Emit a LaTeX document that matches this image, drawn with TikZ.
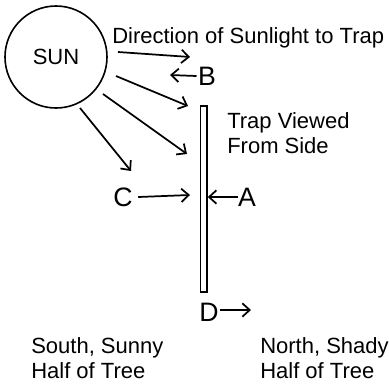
\documentclass[tikz,border=0pt]{standalone}
\usepackage{fontspec}
\setmainfont{Liberation Sans}
\usetikzlibrary{arrows.meta,positioning}
\tikzset{
  ray/.style={-{Straight Barb[length=5.5pt,width=10pt,line width=1.3pt]},line width=1.3pt},
  lbl/.style={font=\fontsize{16.5}{19}\selectfont,inner sep=0pt,anchor=base west},
  letter/.style={font=\fontsize{20}{24}\selectfont,inner sep=0pt},
}
\begin{document}
\begin{tikzpicture}[x=0.75pt,y=-0.75pt]
\useasboundingbox (0,0) rectangle (389,383);
% sun and trap
\node[circle,draw,line width=1.2pt,minimum size=76.5pt,inner sep=0pt,font=\fontsize{16.5}{19}\selectfont] (sun) at (56,57) {SUN};
\node[draw,line width=1.1pt,minimum width=4.9pt,minimum height=139.5pt,inner sep=0pt] (trap) at (203.75,199) {};
% rays from the sun
\coordinate (r1s) at (118,52); \coordinate (r1e) at (190,57);
\coordinate (r2s) at (116,76); \coordinate (r2e) at (188,106);
\coordinate (r3s) at (103,94); \coordinate (r3e) at (187,154);
\coordinate (r4s) at (80,108); \coordinate (r4e) at (131,171);
\draw[ray] (r1s) -- (r1e);
\draw[ray] (r2s) -- (r2e);
\draw[ray] (r3s) -- (r3e);
\draw[ray] (r4s) -- (r4e);
% labels A to D
\node[letter] (B) at (207,76) {B};
\node[letter] (C) at (123,197) {C};
\node[letter] (A) at (247,197) {A};
\node[letter] (D) at (209,312) {D};
\coordinate (Bend) at (170,75);
\coordinate (Cend) at (190,195);
\coordinate (Dend) at (251,310);
\draw[ray] ([xshift=-1pt]B.west) -- (Bend);
\draw[ray] ([xshift=4pt]C.east) -- (Cend);
\draw[ray] (A.west |- 0,197) -- (trap.east |- 0,197);
\draw[ray] ([xshift=0.5pt]D.east |- 0,310) -- (Dend);
% texts
\node[lbl] (title) at (112,43) {Direction of Sunlight to Trap};
\node[lbl] (side1) at (227,128) {Trap Viewed};
\node[lbl] (side2) at (227,153) {From Side};
\node[lbl] (south1) at (31,353) {South, Sunny};
\node[lbl] (south2) at (31,378) {Half of Tree};
\node[lbl] (north1) at (260,353) {North, Shady};
\node[lbl] (north2) at (260,378) {Half of Tree};
\end{tikzpicture}
\end{document}
